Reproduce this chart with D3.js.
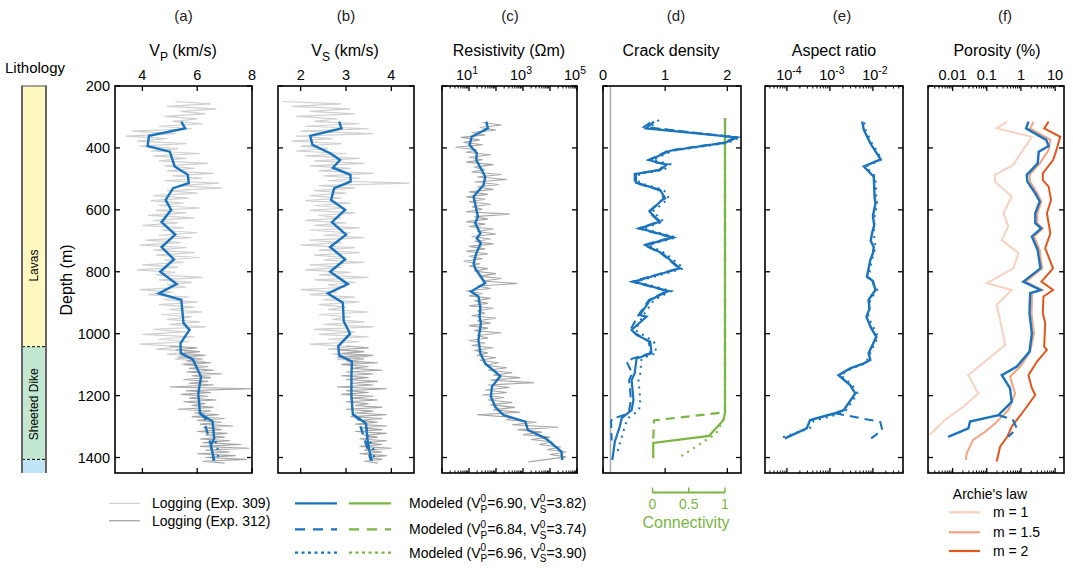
<!DOCTYPE html>
<html><head><meta charset="utf-8">
<script src="https://cdn.jsdelivr.net/npm/d3@7"></script>
<style>body{margin:0;background:#fff} svg{font-family:"Liberation Sans",Arial,sans-serif}</style>
</head><body><svg id="c" width="1073" height="568"></svg>
<script>
// ---------------- DATA ----------------
const panelLetters = ["(a)","(b)","(c)","(d)","(e)","(f)"];
const depthTicks = [200,400,600,800,1000,1200,1400];
const lithNames = ["Lavas","Sheeted Dike",""];
const lithTop = [200,1042,1406];
const lithBottom = [1042,1406,1450];
const lithLabelDepth = [780,1228,null];

// logging traces (uniform depth grid: start + i*step)
const log309Start = 250, log309Step = 8;
const log312Start = 1040, log312Step = 6;
const vp309 = [5.2,6.5,4.9,6.7,5.4,6.3,4.8,6.0,5.1,6.2,4.6,5.8,3.6,5.2,3.4,4.9,3.8,5.6,3.9,5.3,4.3,6.1,4.4,5.6,4.6,6.4,4.8,5.9,4.9,6.6,5.1,6.2,4.8,6.8,5.3,6.9,4.9,6.0,4.4,5.7,4.3,5.5,4.6,6.1,4.5,5.6,4.2,5.9,4.4,5.3,4.0,5.5,4.7,6.0,4.6,5.8,4.1,5.4,3.9,5.6,4.4,5.9,4.5,6.1,4.8,5.5,4.0,5.3,3.8,5.2,4.5,6.2,4.6,5.8,4.9,5.6,3.9,5.1,4.2,5.7,4.8,6.0,4.6,5.9,5.0,6.2,4.7,5.8,4.9,6.1,5.0,6.3,4.4,5.6,4.0,5.9,4.6,5.7,3.9,5.5,4.5,5.9,4.9,6.0,5.2,6.3,5.4];
const vp312 = [5.0,6.0,5.2,6.1,5.4,6.3,5.3,6.2,5.6,6.5,5.5,6.4,5.7,6.6,5.6,6.9,5.8,6.5,5.5,6.4,5.7,6.6,5.0,8.0,5.6,6.5,5.4,6.4,5.7,6.7,5.5,6.3,5.8,6.6,5.3,6.5,5.9,6.8,5.8,7.0,6.0,6.9,6.1,7.3,6.2,6.9,6.0,7.1,6.3,7.0,6.1,7.2,6.2,7.6,6.1,7.9,6.3,7.2,6.0,7.4,6.3,7.8,6.2,7.0];
const vs309 = [1.6,2.9,1.8,3.1,2.2,3.2,1.9,2.8,2.3,3.3,2.1,3.5,2.0,3.6,1.9,2.7,1.8,2.9,2.0,2.6,1.9,3.0,2.1,3.3,2.3,3.4,2.2,3.1,2.4,3.6,2.5,3.3,2.6,4.4,2.4,3.2,2.3,3.0,2.2,2.9,2.1,3.1,2.3,3.0,2.2,3.2,2.4,2.9,2.1,3.0,2.3,3.3,2.2,3.1,2.5,3.4,2.2,2.9,2.0,3.2,2.4,3.3,2.3,3.0,2.5,3.4,2.2,2.9,2.1,3.1,2.4,3.5,2.3,3.2,2.6,3.0,2.0,2.8,2.2,3.2,2.5,3.3,2.4,3.0,2.6,3.5,2.4,3.1,2.7,3.4,2.5,3.6,2.3,3.2,2.4,3.5,2.6,3.3,2.2,3.1,2.6,3.4,2.7,3.5,2.8,3.4,2.9];
const vs312 = [3.0,3.5,2.8,3.4,2.9,3.6,2.8,3.4,3.0,3.7,2.9,3.5,3.1,3.8,3.0,3.6,2.9,3.5,3.0,3.7,3.1,3.6,2.8,3.9,3.0,3.5,2.9,3.6,3.1,3.7,3.0,3.5,3.2,3.8,3.0,3.6,3.2,3.9,3.1,3.8,3.3,3.7,3.2,3.9,3.3,3.8,3.2,3.9,3.4,3.7,3.3,3.9,3.4,3.8,3.3,4.0,3.4,3.8,3.3,3.9,3.5,3.8,3.4,3.7];
const resStart = 318, resStep = 8;
const resLog = [1.5,2.2,1.4,2.0,1.1,1.6,0.7,1.4,0.8,1.5,0.5,1.3,0.9,1.8,1.0,1.5,0.9,1.9,1.2,1.6,1.1,2.2,1.3,2.4,1.2,2.1,1.3,1.9,1.0,1.7,0.9,1.6,1.0,1.8,1.1,1.5,0.9,2.5,1.2,1.7,0.9,1.6,1.0,1.9,1.3,2.0,1.1,1.8,1.2,1.9,1.0,1.6,0.9,1.7,1.0,1.5,0.8,1.4,1.0,1.7,1.2,2.0,1.4,2.2,1.5,2.8,1.3,1.8,0.9,1.5,1.0,1.8,1.2,1.7,1.0,1.9,1.3,1.6,1.1,2.0,1.3,1.8,1.0,1.7,1.2,2.2,1.3,1.7,1.0,1.6,1.1,1.9,1.2,1.7,1.3,2.0,1.4,2.1,1.6,2.4,1.7,2.6,1.9,2.9,1.8,3.4,1.7,2.5,1.6,2.4,1.5,2.3,1.7,2.6,1.8,2.7,1.9,2.9,1.3,2.6,2.4,3.5,2.6,4.3,2.8,3.7,3.0,4.0,3.3,4.1,3.6,4.4,3.9,4.6,4.0,4.6,3.9,3.2];

// modeled curves [depth, value]
const vpSolid = [[315,5.42],[337,5.56],[361,4.24],[394,4.19],[412,5.0],[460,5.18],[487,5.66],[514,5.69],[530,5.12],[568,4.85],[600,5.05],[640,4.7],[680,5.2],[720,4.7],[760,5.15],[800,4.65],[840,5.25],[870,4.6],[891,5.42],[966,5.5],[988,5.72],[1031,5.39],[1063,5.4],[1083,5.84],[1139,6.14],[1193,6.04],[1257,6.1],[1284,6.56],[1338,6.62],[1360,6.5],[1410,6.62]];
const vpDashed = [[1257,6.1],[1275,6.3],[1292,6.28],[1360,6.5],[1410,6.6]];
const vpDotted = [[1257,6.1],[1284,6.56],[1338,6.62],[1365,6.74],[1398,6.76]];
const vsSolid = [[315,2.85],[337,2.9],[361,2.21],[390,2.26],[417,2.65],[439,2.87],[464,2.71],[487,3.1],[509,3.1],[530,2.74],[568,2.67],[600,2.98],[640,2.69],[680,3.0],[720,2.65],[760,2.98],[800,2.65],[840,3.04],[870,2.6],[900,2.93],[960,2.95],[1000,3.09],[1040,2.83],[1070,2.85],[1090,3.13],[1140,3.12],[1200,3.12],[1260,3.15],[1290,3.44],[1340,3.47],[1380,3.52],[1410,3.57]];
const vsDashed = [[1260,3.15],[1280,3.3],[1300,3.32],[1360,3.45],[1410,3.55]];
const vsDotted = [[1260,3.15],[1290,3.44],[1340,3.5],[1370,3.6],[1400,3.62]];
const resModel = [[315,1.64],[337,1.70],[364,1.1],[390,1.02],[417,1.29],[439,1.27],[493,1.6],[520,1.54],[557,1.17],[622,1.33],[643,1.23],[676,1.42],[692,1.29],[708,1.44],[740,1.27],[773,1.17],[789,1.23],[837,1.6],[864,1.07],[880,1.35],[918,1.42],[945,1.39],[966,1.44],[1020,1.35],[1063,1.42],[1096,1.6],[1137,2.16],[1171,1.85],[1203,1.81],[1236,1.97],[1263,2.28],[1284,3.09],[1311,3.18],[1338,3.84],[1381,4.42],[1408,4.46]];
const cdSolid = [[315,0.82],[337,0.69],[366,2.16],[383,1.97],[409,1.08],[439,0.75],[447,0.86],[453,1.03],[471,0.92],[484,0.53],[512,0.53],[536,0.92],[563,1.0],[568,0.95],[606,0.75],[638,0.92],[660,0.59],[689,1.13],[714,0.68],[740,0.95],[789,1.24],[832,0.49],[862,1.05],[891,0.76],[923,0.65],[940,0.59],[945,0.70],[988,0.46],[1004,0.54],[1026,0.76],[1063,0.78],[1080,0.54],[1128,0.51],[1150,0.46],[1214,0.49],[1247,0.46],[1273,0.30],[1300,0.27],[1349,0.19],[1408,0.15]];
const cdDashed = [[318,0.76],[332,0.66],[366,2.12],[383,1.95],[409,1.05],[439,0.73],[453,1.0],[471,0.9],[484,0.51],[512,0.51],[536,0.9],[563,0.98],[606,0.73],[638,0.9],[660,0.57],[689,1.1],[714,0.66],[740,0.93],[789,1.22],[832,0.47],[862,1.03],[891,0.74],[940,0.57],[988,0.44],[1026,0.74],[1063,0.76],[1080,0.48],[1090,0.38],[1128,0.47],[1150,0.42],[1214,0.45],[1247,0.42],[1262,0.35],[1275,0.15],[1282,0.13],[1345,0.14]];
const cdDotted = [[310,0.9],[335,0.75],[366,2.2],[383,2.02],[409,1.12],[439,0.8],[453,1.08],[471,0.98],[484,0.58],[512,0.58],[536,0.98],[563,1.06],[606,0.8],[638,0.98],[660,0.64],[689,1.18],[714,0.73],[740,1.0],[789,1.3],[832,0.54],[862,1.1],[891,0.82],[940,0.65],[988,0.52],[1026,0.82],[1063,0.86],[1080,0.62],[1128,0.6],[1150,0.57],[1214,0.6],[1247,0.58],[1273,0.4],[1300,0.35],[1349,0.28],[1390,0.22]];
const connSolid = [[303,1],[1254,1],[1279,0.98],[1330,0.78],[1353,0.01],[1402,0.01]];
const connDashed = [[303,1],[1254,1],[1280,0.02],[1348,0.01]];
const connDotted = [[303,1],[1255,1],[1270,0.99],[1322,0.88],[1398,0.38]];
const crackRef = 0.12;
const arSolid = [[315,-2.25],[342,-2.21],[385,-2.06],[437,-1.82],[460,-2.21],[493,-1.98],[560,-1.96],[579,-1.94],[620,-2.0],[650,-1.97],[676,-2.02],[700,-2.05],[720,-1.98],[740,-2.0],[762,-2.06],[790,-2.1],[816,-2.14],[830,-2.0],[859,-1.94],[891,-2.1],[920,-2.08],[945,-2.15],[980,-2.05],[1010,-1.92],[1063,-2.1],[1085,-2.06],[1096,-2.21],[1112,-2.53],[1134,-2.8],[1166,-2.53],[1193,-2.41],[1247,-2.68],[1257,-2.88],[1279,-3.46],[1306,-3.54],[1338,-4.05]];
const arDashed = [[1257,-2.88],[1285,-1.83],[1311,-1.78],[1338,-2.04]];
const arDotted = [[318,-2.2],[342,-2.17],[385,-2.02],[437,-1.79],[460,-2.17],[493,-1.94],[560,-1.92],[579,-1.9],[620,-1.96],[676,-1.98],[720,-1.94],[762,-2.02],[816,-2.1],[859,-1.9],[891,-2.06],[945,-2.11],[1010,-1.88],[1063,-2.06],[1096,-2.17],[1112,-2.49],[1134,-2.75],[1166,-2.48],[1193,-2.36],[1247,-2.62],[1262,-2.85],[1282,-3.38],[1306,-3.47],[1336,-4.13]];
const porBlue = [[315,0.22],[337,0.15],[374,0.74],[394,0.81],[412,0.52],[450,0.49],[487,0.17],[509,0.19],[547,0.42],[573,0.55],[611,0.42],[643,0.42],[660,0.59],[686,0.32],[730,0.49],[789,0.57],[832,0.07],[859,0.57],[869,0.27],[934,0.25],[999,0.32],[1058,0.25],[1106,-0.12],[1134,-0.56],[1176,-0.32],[1220,-0.27],[1263,-0.66],[1284,-1.49],[1306,-1.54],[1333,-2.13]];
const porBlueDashed = [[1263,-0.66],[1277,-0.24],[1306,-0.12],[1333,-0.37]];
const porM1 = [[315,-0.41],[337,-0.71],[364,0.32],[428,-0.07],[455,-0.22],[487,-0.76],[509,-0.76],[557,-0.27],[611,-0.51],[654,-0.37],[697,-0.56],[740,-0.07],[789,-0.22],[837,-1.0],[859,-0.27],[907,-0.71],[956,-0.61],[1037,-0.46],[1085,-1.0],[1134,-1.54],[1193,-1.25],[1236,-1.69],[1279,-2.23],[1327,-2.67]];
const porM15 = [[315,0.37],[337,0.27],[374,0.86],[407,0.81],[450,0.55],[487,0.25],[509,0.27],[547,0.48],[573,0.6],[611,0.48],[643,0.48],[660,0.64],[686,0.38],[730,0.55],[789,0.62],[832,0.14],[859,0.62],[869,0.33],[934,0.31],[999,0.38],[1058,0.27],[1106,-0.02],[1139,-0.32],[1193,-0.17],[1247,-0.37],[1290,-0.76],[1317,-1.05],[1343,-1.4],[1386,-1.59],[1408,-1.61]];
const porM2 = [[315,0.81],[337,0.68],[364,1.15],[417,1.01],[439,0.94],[482,0.64],[504,0.64],[525,0.81],[568,0.88],[611,0.76],[676,0.86],[724,0.71],[789,0.94],[832,0.6],[859,0.94],[880,0.66],[934,0.64],[966,0.71],[1042,0.68],[1052,0.76],[1090,0.47],[1134,0.22],[1176,0.32],[1198,0.42],[1257,0.03],[1300,-0.27],[1333,-0.4],[1365,-0.61],[1403,-0.69],[1413,-0.71]];

const loggingLabels = ["Logging (Exp. 309)","Logging (Exp. 312)"];
const vp0 = ["6.90","6.84","6.96"];
const vs0 = ["3.82","3.74","3.90"];
const archieM = ["1","1.5","2"];
const connTicks = [0,0.5,1];

// ---------------- DRAW ----------------
const BLUE = "#1a73bd", GREEN = "#7bb543", G309 = "#d0d0d0", G312 = "#a5a5a5";
const archieColors = ["#f8d2c0","#f1a382","#e1561d"];
const svg = d3.select("#c");
const y = d3.scaleLinear().domain([200,1450]).range([86,473]);
const TOP = y(200), BOT = y(1450);

const xa = d3.scaleLinear().domain([3,8]).range([115,252]);
const xb = d3.scaleLinear().domain([1.5,4.5]).range([278,414]);
const xc = d3.scaleLog().domain([1,1e5]).range([442,577]);
const xd = d3.scaleLinear().domain([0,2.22]).range([603,741]);
const xconn = d3.scaleLinear().domain([0,1]).range([652.5,725]);
const xe = d3.scaleLog().domain([Math.pow(10,-4.51),Math.pow(10,-1.3)]).range([765,903]);
const xf = d3.scaleLog().domain([Math.pow(10,-2.72),Math.pow(10,1.26)]).range([928,1064]);

function pathFrom(data, xs, isLog, attrs){
  const ln = d3.line().x(d => xs(isLog ? Math.pow(10,d[1]) : d[1])).y(d => y(d[0]));
  const p = svg.append("path").attr("d", ln(data)).attr("fill","none");
  Object.entries(attrs).forEach(([k,v]) => p.attr(k,v));
  return p;
}
function gridSeries(start, step, vals){ return vals.map((v,i)=>[start+i*step, v]); }

function sup(text, x, yy, base, s, anchor, size){
  const t = svg.append("text").attr("x",x).attr("y",yy).attr("text-anchor",anchor||"middle").attr("font-size",size||14);
  t.append("tspan").text(base);
  if (s) t.append("tspan").attr("dy",-6).attr("font-size",(size||14)*0.72).text(s);
  return t;
}

function frame(xs, x0, x1, majors, minors, labelsFn, yLabels){
  const g = svg.append("g");
  minors.forEach(v => {
    const xx = xs(v);
    g.append("line").attr("x1",xx).attr("x2",xx).attr("y1",TOP).attr("y2",TOP+2.5).attr("stroke","#000").attr("stroke-width",1);
    g.append("line").attr("x1",xx).attr("x2",xx).attr("y1",BOT).attr("y2",BOT-2.5).attr("stroke","#000").attr("stroke-width",1);
  });
  majors.forEach(v => {
    const xx = xs(v);
    g.append("line").attr("x1",xx).attr("x2",xx).attr("y1",TOP).attr("y2",TOP+5).attr("stroke","#000").attr("stroke-width",1.3);
    g.append("line").attr("x1",xx).attr("x2",xx).attr("y1",BOT).attr("y2",BOT-5).attr("stroke","#000").attr("stroke-width",1.3);
  });
  depthTicks.forEach(d => {
    g.append("line").attr("x1",x0).attr("x2",x0+5).attr("y1",y(d)).attr("y2",y(d)).attr("stroke","#000").attr("stroke-width",1.3);
    g.append("line").attr("x1",x1).attr("x2",x1-5).attr("y1",y(d)).attr("y2",y(d)).attr("stroke","#000").attr("stroke-width",1.3);
  });
  labelsFn();
  if (yLabels){
    depthTicks.forEach(d => svg.append("text").attr("x",x0-5).attr("y",y(d)+5).attr("text-anchor","end").attr("font-size",14.5).text(d));
  }
}
function border(x0,x1){
  svg.append("rect").attr("x",x0).attr("y",TOP).attr("width",x1-x0).attr("height",BOT-TOP).attr("fill","none").attr("stroke","#000").attr("stroke-width",1.6);
}
function logMinors(lo, hi, xs){
  const out=[]; const dom = xs.domain();
  for (let e=lo; e<=hi; e++) for (let m=2; m<=9; m++){ const v=m*Math.pow(10,e); if (v>dom[0] && v<dom[1]) out.push(v); }
  return out;
}
const LBLY = 80;

// lithology column
lithNames.forEach((n,i) => {
  const cols = ["#fff9c1","#c3e8d1","#bfe5f7"];
  svg.append("rect").attr("x",22).attr("width",24).attr("y",y(lithTop[i])).attr("height",y(lithBottom[i])-y(lithTop[i])).attr("fill",cols[i]);
  if (n) svg.append("text").attr("transform",`translate(38,${y(lithLabelDepth[i])}) rotate(-90)`).attr("text-anchor","middle").attr("font-size",12).text(n);
  if (i>0) svg.append("line").attr("x1",22).attr("x2",46).attr("y1",y(lithTop[i])).attr("y2",y(lithTop[i])).attr("stroke","#000").attr("stroke-dasharray","3,2").attr("stroke-width",1);
});
svg.append("line").attr("x1",22).attr("x2",22).attr("y1",TOP).attr("y2",BOT).attr("stroke","#666").attr("stroke-width",2);
svg.append("line").attr("x1",46).attr("x2",46).attr("y1",TOP).attr("y2",BOT).attr("stroke","#666").attr("stroke-width",2);
svg.append("line").attr("x1",21).attr("x2",47).attr("y1",TOP).attr("y2",TOP).attr("stroke","#666").attr("stroke-width",1.2);
svg.append("text").attr("x",35).attr("y",73).attr("text-anchor","middle").attr("font-size",15).text("Lithology");
svg.append("text").attr("transform","translate(72,280) rotate(-90)").attr("text-anchor","middle").attr("font-size",16).text("Depth (m)");

// panel letters
const letterX = [183.5,346,510,676,842,1005];
panelLetters.forEach((l,i)=> svg.append("text").attr("x",letterX[i]).attr("y",21).attr("text-anchor","middle").attr("font-size",15).attr("fill","#222").text(l));

// axis titles
function subTitle(x, base, sub, rest){
  const t = svg.append("text").attr("x",x).attr("y",56).attr("text-anchor","middle").attr("font-size",16);
  t.append("tspan").text(base);
  if (sub){ t.append("tspan").attr("dy",5).attr("font-size",12).text(sub); t.append("tspan").attr("dy",-5).text(rest); }
}
subTitle(183,"V","P"," (km/s)");
subTitle(345,"V","S"," (km/s)");
subTitle(509,"Resistivity (\u03A9m)");
subTitle(671,"Crack density");
subTitle(834,"Aspect ratio");
subTitle(997,"Porosity (%)");

// ---- Panel a ----
pathFrom(gridSeries(log309Start,log309Step,vp309), xa, false, {stroke:G309,"stroke-width":1.2});
pathFrom(gridSeries(log312Start,log312Step,vp312), xa, false, {stroke:G312,"stroke-width":1.1});
pathFrom(vpDashed, xa, false, {stroke:BLUE,"stroke-width":2.2,"stroke-dasharray":"9,6"});
pathFrom(vpDotted, xa, false, {stroke:BLUE,"stroke-width":2.2,"stroke-dasharray":"2,5"});
pathFrom(vpSolid, xa, false, {stroke:BLUE,"stroke-width":2.4});
border(115,252);
frame(xa,115,252,[4,6,8],[],()=>{[4,6,8].forEach(v=>svg.append("text").attr("x",xa(v)).attr("y",LBLY).attr("text-anchor","middle").attr("font-size",14.5).text(v));}, true);

// ---- Panel b ----
pathFrom(gridSeries(log309Start,log309Step,vs309), xb, false, {stroke:G309,"stroke-width":1.2});
pathFrom(gridSeries(log312Start,log312Step,vs312), xb, false, {stroke:G312,"stroke-width":1.1});
pathFrom(vsDashed, xb, false, {stroke:BLUE,"stroke-width":2.2,"stroke-dasharray":"9,6"});
pathFrom(vsDotted, xb, false, {stroke:BLUE,"stroke-width":2.2,"stroke-dasharray":"2,5"});
pathFrom(vsSolid, xb, false, {stroke:BLUE,"stroke-width":2.4});
border(278,414);
frame(xb,278,414,[2,3,4],[],()=>{[2,3,4].forEach(v=>svg.append("text").attr("x",xb(v)).attr("y",LBLY).attr("text-anchor","middle").attr("font-size",14.5).text(v));}, false);

// ---- Panel c ----
pathFrom(gridSeries(resStart,resStep,resLog), xc, true, {stroke:G312,"stroke-width":1.1});
pathFrom(resModel, xc, true, {stroke:BLUE,"stroke-width":2.4});
border(442,577);
frame(xc,442,577,[1,10,100,1e3,1e4,1e5],logMinors(0,4,xc),()=>{
  [[10,"1"],[1e3,"3"],[1e5,"5"]].forEach(([v,e])=>sup(null,xc(v)-2,LBLY,"10",e,"middle",14.5));
}, false);

// ---- Panel d ----
svg.append("line").attr("x1",xd(crackRef)).attr("x2",xd(crackRef)).attr("y1",TOP).attr("y2",BOT).attr("stroke","#aaa").attr("stroke-width",1.5);
pathFrom(connSolid, xconn, false, {stroke:GREEN,"stroke-width":2.2});
pathFrom(connDashed, xconn, false, {stroke:GREEN,"stroke-width":2.2,"stroke-dasharray":"9,6"});
pathFrom(connDotted, xconn, false, {stroke:GREEN,"stroke-width":2.2,"stroke-dasharray":"2,5"});
pathFrom(cdDashed, xd, false, {stroke:BLUE,"stroke-width":2,"stroke-dasharray":"9,5"});
pathFrom(cdDotted, xd, false, {stroke:BLUE,"stroke-width":2,"stroke-dasharray":"2,5"});
pathFrom(cdSolid, xd, false, {stroke:BLUE,"stroke-width":2.2});
border(603,741);
frame(xd,603,741,[0,1,2],[],()=>{[0,1,2].forEach(v=>svg.append("text").attr("x",xd(v)).attr("y",LBLY).attr("text-anchor","middle").attr("font-size",14.5).text(v));}, false);
const cy = 492.5;
svg.append("line").attr("x1",xconn(0)).attr("x2",xconn(1)).attr("y1",cy).attr("y2",cy).attr("stroke",GREEN).attr("stroke-width",2);
connTicks.forEach(v=>{
  svg.append("line").attr("x1",xconn(v)).attr("x2",xconn(v)).attr("y1",cy).attr("y2",cy-5).attr("stroke",GREEN).attr("stroke-width",1.5);
  svg.append("text").attr("x",xconn(v)).attr("y",509).attr("text-anchor","middle").attr("font-size",14).attr("fill",GREEN).text(v);
});
svg.append("text").attr("x",686).attr("y",528).attr("text-anchor","middle").attr("font-size",16).attr("fill",GREEN).text("Connectivity");

// ---- Panel e ----
pathFrom(arDotted, xe, true, {stroke:BLUE,"stroke-width":2,"stroke-dasharray":"2,5"});
pathFrom(arDashed, xe, true, {stroke:BLUE,"stroke-width":2,"stroke-dasharray":"9,6"});
pathFrom(arSolid, xe, true, {stroke:BLUE,"stroke-width":2.4});
border(765,903);
frame(xe,765,903,[1e-4,1e-3,1e-2],logMinors(-5,-2,xe),()=>{
  [[1e-4,"-4"],[1e-3,"-3"],[1e-2,"-2"]].forEach(([v,e])=>sup(null,xe(v)+2,LBLY,"10",e,"middle",14.5));
}, false);

// ---- Panel f ----
pathFrom(porM1, xf, true, {stroke:archieColors[0],"stroke-width":2});
pathFrom(porM15, xf, true, {stroke:archieColors[1],"stroke-width":2});
pathFrom(porM2, xf, true, {stroke:archieColors[2],"stroke-width":2});
pathFrom(porBlueDashed, xf, true, {stroke:BLUE,"stroke-width":2.2,"stroke-dasharray":"9,6"});
pathFrom(porBlue, xf, true, {stroke:BLUE,"stroke-width":2.4});
border(928,1064);
frame(xf,928,1064,[0.01,0.1,1,10],logMinors(-3,1,xf),()=>{
  [[0.01,"0.01"],[0.1,"0.1"],[1,"1"],[10,"10"]].forEach(([v,t])=>svg.append("text").attr("x",xf(v)).attr("y",LBLY).attr("text-anchor","middle").attr("font-size",14.5).text(t));
}, false);

// ---------------- LEGENDS ----------------
const logRows = [503.3, 520.7];
loggingLabels.forEach((l,i)=>{
  svg.append("line").attr("x1",109).attr("x2",140).attr("y1",logRows[i]).attr("y2",logRows[i]).attr("stroke",i?G312:G309).attr("stroke-width",1.3);
  svg.append("text").attr("x",152).attr("y",logRows[i]+5).attr("font-size",14).text(l);
});
const modRows = [503.3, 529.3, 552.7];
const dashes = [null,"10,8","3,3.5"];
vp0.forEach((v,i)=>{
  [[295,337,BLUE],[349,391,GREEN]].forEach(([a,b,c])=>{
    const ln = svg.append("line").attr("x1",a).attr("x2",b).attr("y1",modRows[i]).attr("y2",modRows[i]).attr("stroke",c).attr("stroke-width",2.2);
    if (dashes[i]) ln.attr("stroke-dasharray",dashes[i]);
  });
  const t = svg.append("text").attr("x",409).attr("y",modRows[i]+5).attr("font-size",14);
  t.append("tspan").text("Modeled (V");
  t.append("tspan").attr("dy",-6.5).attr("font-size",10).text("0");
  t.append("tspan").attr("dx",-5.6).attr("dy",11).attr("font-size",10).text("P");
  t.append("tspan").attr("dy",-4.5).text("="+v+", V");
  t.append("tspan").attr("dy",-6.5).attr("font-size",10).text("0");
  t.append("tspan").attr("dx",-5.6).attr("dy",11).attr("font-size",10).text("S");
  t.append("tspan").attr("dy",-4.5).text("="+vs0[i]+")");
});
svg.append("text").attr("x",990).attr("y",499).attr("text-anchor","middle").attr("font-size",14).text("Archie's law");
const arRows = [512.3,532.3,551];
archieM.forEach((m,i)=>{
  svg.append("line").attr("x1",949).attr("x2",980).attr("y1",arRows[i]).attr("y2",arRows[i]).attr("stroke",archieColors[i]).attr("stroke-width",2.2);
  svg.append("text").attr("x",993).attr("y",arRows[i]+5).attr("font-size",14).text("m = "+m);
});
</script></body></html>
